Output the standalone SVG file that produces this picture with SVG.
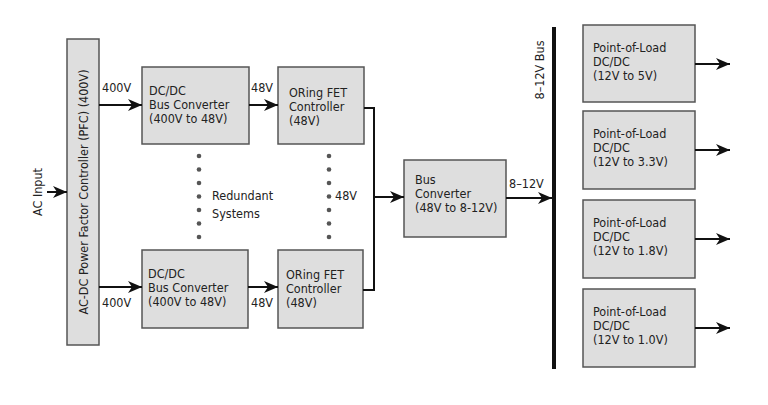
<svg xmlns="http://www.w3.org/2000/svg" width="768" height="405" viewBox="0 0 768 405">
<defs>
<marker id="a" viewBox="0 0 14 12" refX="14" refY="6" markerWidth="14" markerHeight="12" markerUnits="userSpaceOnUse" orient="auto"><path d="M0,0 L14,6 L0,12 L4,6 z" fill="#111"/></marker>
<style>
rect.b{fill:#dedede;stroke:#555;stroke-width:1.5}
text{font-family:"DejaVu Sans Condensed","Liberation Sans",sans-serif;font-size:12.5px;fill:#222}
.c{stroke:#111;stroke-width:2;fill:none}
.d{fill:#555}
</style>
</defs>
<rect width="768" height="405" fill="#fff"/>
<g id="pfc"><rect class="b" x="67" y="39" width="32" height="306"/><text transform="translate(88,192) rotate(-90)" text-anchor="middle">AC-DC Power Factor Controller (PFC) (400V)</text></g>
<g id="acin"><text transform="translate(42,192) rotate(-90)" text-anchor="middle">AC Input</text></g>
<g id="dc1"><rect class="b" x="142" y="67" width="107" height="77"/><text x="149" y="95">DC/DC</text><text x="149" y="109">Bus Converter</text><text x="149" y="123">(400V to 48V)</text></g>
<g id="dc2"><rect class="b" x="142" y="250" width="106" height="78"/><text x="148" y="278">DC/DC</text><text x="148" y="292">Bus Converter</text><text x="148" y="306">(400V to 48V)</text></g>
<g id="or1"><rect class="b" x="278" y="67" width="86" height="77"/><text x="289" y="97">ORing FET</text><text x="289" y="111">Controller</text><text x="289" y="125">(48V)</text></g>
<g id="or2"><rect class="b" x="278" y="250" width="85" height="78"/><text x="286" y="279">ORing FET</text><text x="286" y="293">Controller</text><text x="286" y="307">(48V)</text></g>
<g id="bus"><rect class="b" x="404" y="160" width="102" height="77"/><text x="415" y="184">Bus</text><text x="415" y="198">Converter</text><text x="415" y="212">(48V to 8-12V)</text></g>
<g id="busline"><rect x="552" y="27" width="4" height="342" fill="#111"/><text transform="translate(544,70) rotate(-90)" text-anchor="middle">8–12V Bus</text></g>
<g id="pol1"><rect class="b" x="583" y="25" width="112" height="77"/><text x="593" y="52">Point-of-Load</text><text x="593" y="66">DC/DC</text><text x="593" y="80">(12V to 5V)</text></g>
<g id="pol2"><rect class="b" x="583" y="111" width="112" height="78"/><text x="593" y="138">Point-of-Load</text><text x="593" y="152">DC/DC</text><text x="593" y="166">(12V to 3.3V)</text></g>
<g id="pol3"><rect class="b" x="583" y="200" width="112" height="78"/><text x="593" y="227">Point-of-Load</text><text x="593" y="241">DC/DC</text><text x="593" y="255">(12V to 1.8V)</text></g>
<g id="pol4"><rect class="b" x="583" y="289" width="112" height="78"/><text x="593" y="316">Point-of-Load</text><text x="593" y="330">DC/DC</text><text x="593" y="344">(12V to 1.0V)</text></g>
<g id="redundant"><text x="212" y="200">Redundant</text><text x="212" y="218">Systems</text>
<g class="d"><circle cx="199" cy="156" r="2.3"/><circle cx="199" cy="169.5" r="2.3"/><circle cx="199" cy="183" r="2.3"/><circle cx="199" cy="196.5" r="2.3"/><circle cx="199" cy="210" r="2.3"/><circle cx="199" cy="223.5" r="2.3"/><circle cx="199" cy="237" r="2.3"/>
<circle cx="329" cy="156" r="2.3"/><circle cx="329" cy="169.5" r="2.3"/><circle cx="329" cy="183" r="2.3"/><circle cx="329" cy="196.5" r="2.3"/><circle cx="329" cy="210" r="2.3"/><circle cx="329" cy="223.5" r="2.3"/><circle cx="329" cy="237" r="2.3"/></g></g>
<g id="connectors">
<path class="c" d="M47,192 H67" marker-end="url(#a)"/>
<path class="c" d="M99,105 H142" marker-end="url(#a)"/>
<path class="c" d="M99,287 H142" marker-end="url(#a)"/>
<path class="c" d="M249,105 H278" marker-end="url(#a)"/>
<path class="c" d="M248,287 H278" marker-end="url(#a)"/>
<path class="c" d="M364,108 H374 V290 H363"/>
<path class="c" d="M374,197 H404" marker-end="url(#a)"/>
<path class="c" d="M506,198 H552" marker-end="url(#a)"/>
<path class="c" d="M695,64 H730" marker-end="url(#a)"/>
<path class="c" d="M695,150 H730" marker-end="url(#a)"/>
<path class="c" d="M695,239 H730" marker-end="url(#a)"/>
<path class="c" d="M695,328 H730" marker-end="url(#a)"/>
<text x="102" y="92">400V</text><text x="102" y="307">400V</text>
<text x="251" y="92">48V</text><text x="251" y="307">48V</text>
<text x="335" y="200">48V</text>
<text x="509" y="188">8–12V</text>
</g>
</svg>
